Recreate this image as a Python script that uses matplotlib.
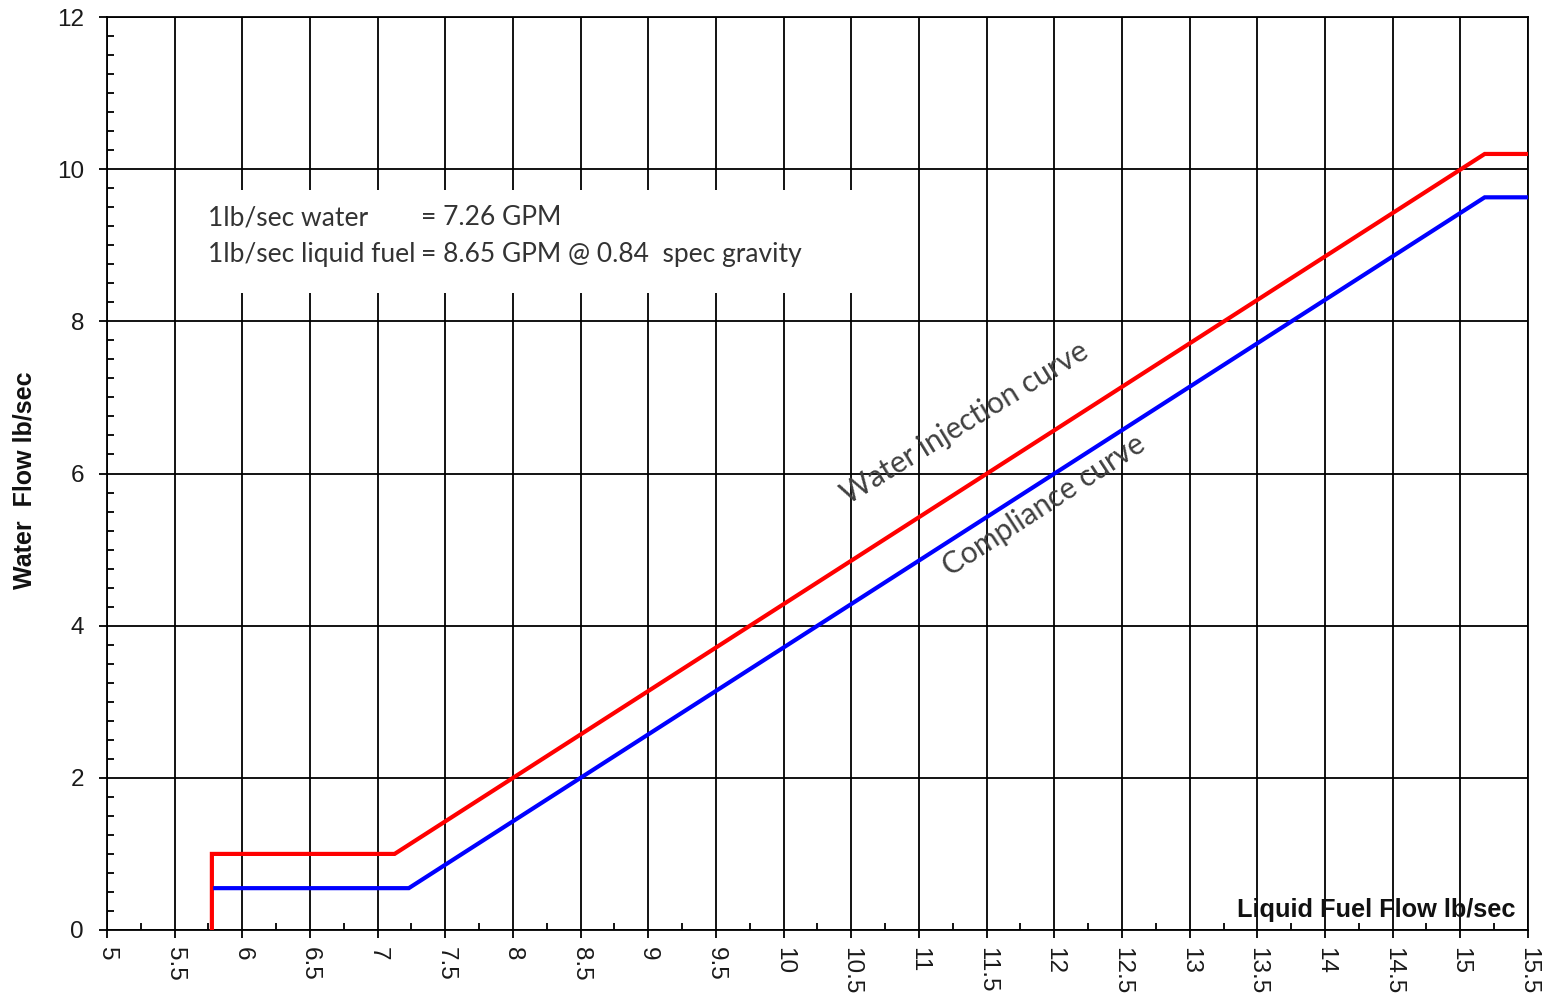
import matplotlib
matplotlib.use("Agg")
import matplotlib.pyplot as plt
from matplotlib.patches import Rectangle
from matplotlib.ticker import MultipleLocator
import numpy as np

# ---- data ----
water_x = [5.775, 5.775, 7.125, 15.18, 15.5]
water_y = [0.0, 1.0, 1.0, 10.2, 10.2]
comp_x = [5.80, 7.23, 15.18, 15.5]
comp_y = [0.55, 0.55, 9.63, 9.63]

x_ticks = np.arange(5.0, 15.51, 0.5)
x_tick_labels = ["5", "5.5", "6", "6.5", "7", "7.5", "8", "8.5", "9", "9.5", "10",
                 "10.5", "11", "11.5", "12", "12.5", "13", "13.5", "14", "14.5", "15", "15.5"]
y_ticks = [0, 2, 4, 6, 8, 10, 12]
y_tick_labels = ["0", "2", "4", "6", "8", "10", "12"]

note_left = ["1lb/sec water", "1lb/sec liquid fuel"]
note_right = ["= 7.26 GPM", "= 8.65 GPM @ 0.84  spec gravity"]

# ---- figure ----
fig = plt.figure(figsize=(15.43, 10.0), dpi=100)
ax = fig.add_axes([107 / 1543, 1 - 930 / 1000, 1421 / 1543, 913 / 1000])
ax.set_xlim(5.0, 15.5)
ax.set_ylim(0, 12)

ax.set_xticks(x_ticks)
ax.set_xticklabels(x_tick_labels, rotation=-90, fontsize=17.5,
                   family="Liberation Sans", color="#1a1a1a")
ax.set_yticks(y_ticks)
ax.set_yticklabels(y_tick_labels, fontsize=17.5, family="Liberation Sans", color="#1a1a1a")
ax.xaxis.set_minor_locator(MultipleLocator(0.25))
ax.yaxis.set_minor_locator(MultipleLocator(0.25))

ax.tick_params(axis="both", which="major", direction="out", length=5.5, width=1.3, color="black")
ax.tick_params(axis="x", which="major", pad=7)
ax.tick_params(axis="y", which="major", pad=11)
ax.tick_params(axis="both", which="minor", direction="in", length=5, width=1.3, color="black")

ax.grid(True, which="major", color="black", linewidth=1.3)
ax.set_axisbelow(True)
for s in ax.spines.values():
    s.set_color("black")
    s.set_linewidth(1.3)

# white note box covering the grid
box = Rectangle((5.61, 8.37), 10.71 - 5.61, 9.72 - 8.37, facecolor="white",
                edgecolor="none", zorder=1.5)
ax.add_patch(box)

ax.plot(water_x, water_y, color="#ff0000", linewidth=3, zorder=3, solid_joinstyle="miter")
ax.plot(comp_x, comp_y, color="#0000ff", linewidth=3, zorder=3, solid_joinstyle="miter")

note_font = dict(family="Lato", fontsize=19, color="#333333", zorder=4)
ax.text(5.75, 9.36, note_left[0], ha="left", va="center", **note_font)
ax.text(7.32, 9.36, note_right[0], ha="left", va="center", **note_font)
ax.text(5.75, 8.88, note_left[1], ha="left", va="center", **note_font)
ax.text(7.32, 8.88, note_right[1], ha="left", va="center", **note_font)

curve_font = dict(family="Lato", fontsize=21.5, color="#404040", zorder=4)
ax.text(11.34, 6.66, "Water injection curve", rotation=31.5, ha="center", va="center",
        rotation_mode="anchor", **curve_font)
ax.text(11.92, 5.585, "Compliance curve", rotation=33, ha="center", va="center",
        rotation_mode="anchor", **curve_font)

ax.text(15.41, 0.26, "Liquid Fuel Flow lb/sec", ha="right", va="center",
        family="Liberation Sans", fontweight="bold", fontsize=18.3, color="#111111", zorder=4)

ax.set_ylabel("Water  Flow lb/sec", family="Liberation Sans", fontweight="bold",
              fontsize=18, color="#111111")
ax.yaxis.set_label_coords(-0.0493, 0.493)

fig.savefig("out.png", dpi=100)
